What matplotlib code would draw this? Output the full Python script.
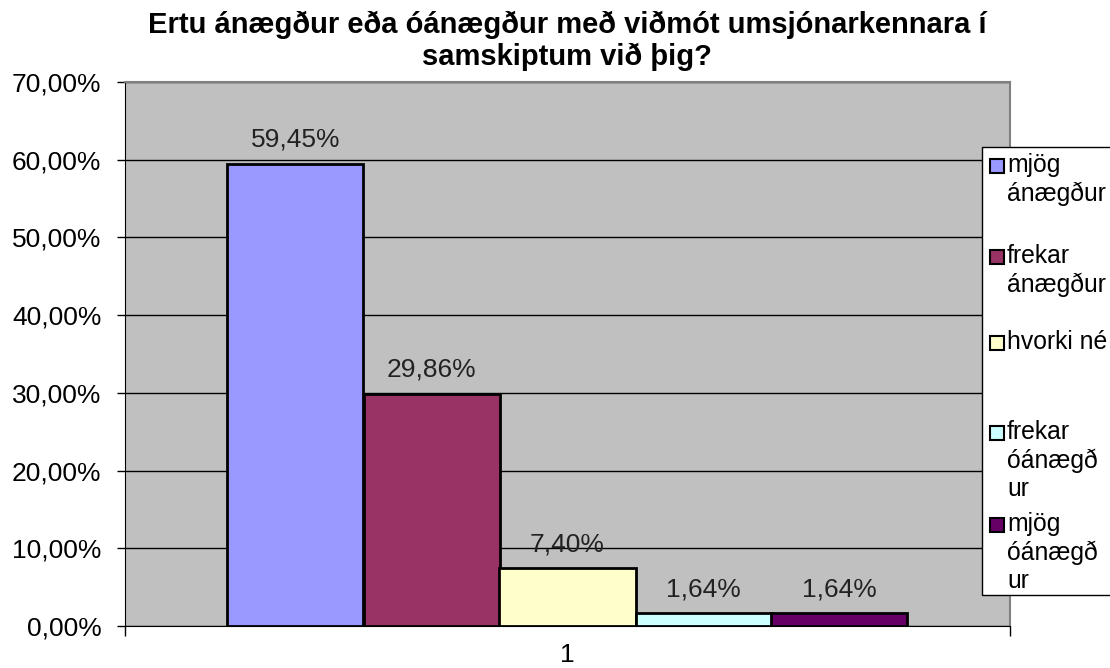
import matplotlib
matplotlib.use("Agg")
import matplotlib.pyplot as plt
from matplotlib.patches import Rectangle
from matplotlib.ticker import FuncFormatter

plt.rcParams['font.family'] = ['Liberation Sans', 'DejaVu Sans']

categories = ["mjög ánægður", "frekar ánægður", "hvorki né", "frekar óánægður", "mjög óánægður"]
legend_labels = ["mjög\nánægður", "frekar\nánægður", "hvorki né", "frekar\nóánægð\nur", "mjög\nóánægð\nur"]
values = [0.5945, 0.2986, 0.0740, 0.0164, 0.0164]
colors = ["#9999FF", "#993366", "#FFFFCC", "#CCFFFF", "#660066"]
group_label = "1"
title = "Ertu ánægður eða óánægður með viðmót umsjónarkennara í\nsamskiptum við þig?"

W, H = 1110, 668
fig = plt.figure(figsize=(W / 100, H / 100), dpi=100)
ax = fig.add_axes([125 / W, 1 - 626 / H, (1010 - 125) / W, (626 - 82) / H])
ax.set_facecolor("#C0C0C0")

bw = 136 / 885
for i, (v, c) in enumerate(zip(values, colors)):
    x = 1 + (i - 2) * bw
    ax.bar(x, v, width=bw, color=c, edgecolor="black", linewidth=2, zorder=3)
    ax.annotate(("%.2f%%" % (v * 100)).replace(".", ","), (x, v),
                xytext=(0, 24), textcoords="offset pixels",
                ha="center", va="center", fontsize=19, color="#222222", zorder=4)

ax.set_xlim(0.5, 1.5)
ax.set_ylim(0, 0.7)
ax.set_yticks([i / 10 for i in range(8)])
ax.yaxis.set_major_formatter(FuncFormatter(lambda y, p: ("%.2f%%" % (y * 100)).replace(".", ",")))
ax.grid(axis="y", color="black", linewidth=1, zorder=1)
ax.tick_params(axis="y", labelsize=19, length=6, width=1, direction="out", pad=11)

ax.set_xticks([1])
ax.set_xticklabels([group_label])
ax.set_xticks([0.5, 1.5], minor=True)
ax.tick_params(axis="x", which="major", length=0, labelsize=19, pad=12)
ax.tick_params(axis="x", which="minor", length=7, width=1)

for s in ["top", "right"]:
    ax.spines[s].set_color("#808080")
    ax.spines[s].set_linewidth(1.5)
ax.spines["left"].set_color("black")
ax.spines["bottom"].set_color("black")

fig.text(567 / W, 1 - 11 / H, title, ha="center", va="top", fontsize=21,
         fontweight="bold", linespacing=1.15)

# legend drawn by hand to follow the uneven spacing of the original
lx0, ly0, ly1 = 982, 147, 595
fig.patches.append(Rectangle((lx0 / W, 1 - ly1 / H), (W + 10 - lx0) / W, (ly1 - ly0) / H,
                             transform=fig.transFigure, facecolor="white",
                             edgecolor="black", linewidth=1, zorder=5))
entry_rows = [166, 257, 343, 433, 525]
for lab, c, yc in zip(legend_labels, colors, entry_rows):
    fig.patches.append(Rectangle((990 / W, 1 - (yc + 7) / H), 14 / W, 14 / H,
                                 transform=fig.transFigure, facecolor=c,
                                 edgecolor="black", linewidth=1.5, zorder=6))
    fig.text(1007 / W, 1 - (yc - 13) / H, lab, ha="left", va="top", fontsize=17.8,
             linespacing=1.22, zorder=7)

fig.savefig("out.png", dpi=100)
